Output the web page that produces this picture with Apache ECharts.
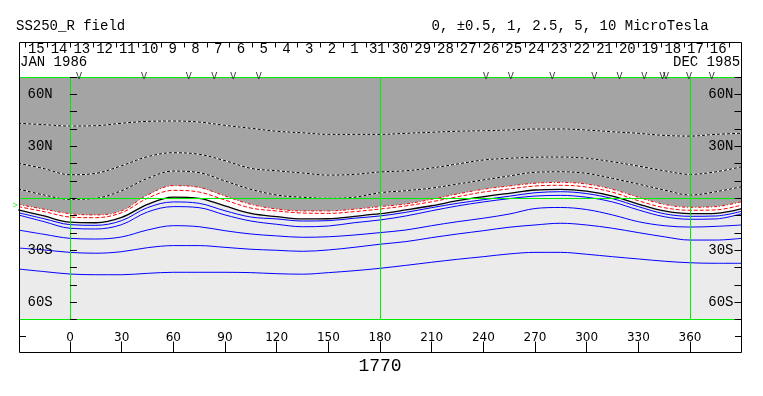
<!DOCTYPE html>
<html><head><meta charset="utf-8">
<script src="https://cdn.jsdelivr.net/npm/echarts@6/dist/echarts.min.js"></script>
<style>html,body{margin:0;padding:0;background:#fff}#c{width:763px;height:396px}</style>
</head><body><div id="c"></div>
<script>
// Carrington longitude samples
const lons = [-30,-15,0,15,30,45,60,75,90,105,120,135,150,165,180,195,210,225,240,255,270,285,300,315,330,345,360,375,390];
// contour latitudes (deg) per longitude
const neg10 = [43.3,42.5,41.7,41.9,43.3,44.4,44.6,44.0,42.1,40.4,38.7,37.8,36.9,36.9,36.9,37.5,38.1,38.7,39.0,39.4,40.0,40.0,39.4,38.4,37.5,36.3,35.9,36.9,37.5];
const neg5 = [20.2,17.1,13.6,14.4,18.8,24.0,26.3,25.4,21.7,17.3,15.9,14.6,13.4,13.8,15.2,15.9,17.5,19.8,22.1,23.1,23.7,23.8,23.1,21.1,18.6,15.9,13.8,15.3,18.2];
const neg25 = [5.4,1.9,-0.6,0,4.4,11.5,15.7,14.8,10.0,5.2,1.9,0.6,0,0.6,3.2,4.4,5.9,8.2,10.6,12.9,15.0,15.3,14.4,11.5,8.2,4.8,1.9,3.8,6.7];
const neg1 = [-3.5,-6.3,-8.9,-9.6,-7.2,1.9,7.3,6.3,1.3,-3.5,-6.2,-7.3,-7.3,-6.3,-4.8,-3.3,-0.6,2.5,5.2,7.1,8.7,9.2,8.2,5.2,0.6,-3.5,-5.2,-4.8,-2.0];
const neg05 = [-4.8,-7.7,-10.8,-11.2,-8.3,0,4.6,3.6,-1.0,-5.6,-7.3,-8.5,-8.7,-7.7,-6.2,-4.4,-2.0,0.9,3.6,5.4,7.1,7.5,6.5,3.5,-1.4,-5.4,-6.9,-6.7,-3.9];
const zero = [-6.7,-10.2,-13.8,-14.1,-11.0,-3.5,0.7,0,-4.4,-8.7,-10.6,-11.9,-11.8,-10.4,-8.9,-6.7,-4.3,-1.4,0.9,2.9,4.8,5.2,4.2,1.3,-3.3,-7.3,-8.9,-8.7,-6.0];
const pos05 = [-8.3,-11.8,-15.2,-15.6,-12.9,-5.4,-2.1,-2.9,-7.2,-10.8,-11.9,-13.1,-12.9,-11.5,-10.2,-8.1,-5.4,-2.9,-0.8,1.2,3.2,3.8,2.7,-0.2,-4.8,-8.9,-10.4,-10.2,-7.5];
const pos1 = [-9.6,-13.5,-17.3,-17.7,-15.2,-7.9,-4.8,-5.4,-9.6,-13.1,-15.0,-16.4,-16.0,-14.1,-12.5,-10.2,-7.2,-4.4,-2.1,-0.2,1.3,1.7,0.6,-2.1,-6.7,-10.6,-12.1,-11.9,-8.9];
const pos25 = [-18.3,-20.8,-23.1,-23.5,-22.3,-18.3,-15.8,-16.4,-18.7,-20.6,-21.7,-22.5,-22.2,-21.2,-19.8,-18.3,-15.8,-13.5,-11.5,-9.1,-5.9,-5.3,-6.5,-9.6,-13.5,-15.8,-16.6,-16.2,-15.4];
const pos5 = [-28.7,-29.8,-31.2,-31.7,-30.8,-28.5,-27.3,-27.3,-28.3,-29.4,-30.0,-30.6,-29.8,-28.3,-26.5,-25.0,-22.7,-20.6,-18.7,-16.7,-15.4,-14.4,-15.4,-17.3,-19.8,-22.2,-24.1,-24.1,-23.1];
const pos10 = [-40.8,-42.3,-43.7,-44.1,-44.1,-43.3,-42.7,-42.7,-42.7,-42.9,-43.5,-43.8,-42.9,-41.8,-40.4,-38.7,-36.9,-35.2,-33.7,-32.1,-31.2,-31.2,-32.3,-33.7,-35.0,-36.3,-37.2,-37.5,-37.5];
// day labels along the top strip
const dayLabels = ['15','14','13','12','11','10','9','8','7','6','5','4','3','2','1','31','30','29','28','27','26','25','24','23','22','21','20','19','18','17','16'];
// observation markers (longitudes)
const markLons = [5.2,43,68.9,83.8,94.8,109.6,241.5,255.9,280,304.4,319,333.5,344,346,359.4,372.6];
const earthLat = [-4.3];
// latitude tick labels
const latTickVals = [60,30,-30,-60];
const latTickText = ['60N','30N','30S','60S'];
const lonTickVals = [0,30,60,90,120,150,180,210,240,270,300,330,360];
const rotation = '1770';
const titleLeft = 'SS250_R field';
const titleRight = '0, \u00b10.5, 1, 2.5, 5, 10 MicroTesla';
const monthLeft = 'JAN 1986';
const monthRight = 'DEC 1985';

const MONO = "'Liberation Mono', 'DejaVu Sans Mono', monospace";
const pair = arr => lons.map((x, i) => [x, arr[i]]);
const SM = 0.35;
const base = {type:'line', xAxisIndex:1, yAxisIndex:1, symbol:'none', smooth:SM, silent:true, animation:false};
function contour(arr, color, type, width, z) {
  return Object.assign({}, base, {data: pair(arr), z: z || 4, lineStyle:{color, type, width: width || 1}});
}
const latFmt = v => { const i = latTickVals.indexOf(v); return i >= 0 ? latTickText[i] : ''; };
const sideTickY = gi => ({gridIndex:gi, type:'value', min:0, max:2, interval:1,
  axisLine:{show:false}, axisTick:{show:false}, axisLabel:{show:false},
  splitLine:{show:true, showMinLine:false, showMaxLine:false, lineStyle:{color:'#000', width:1}}});

const chart = echarts.init(document.getElementById('c'), null, {renderer:'canvas'});
const option = {
  animation:false,
  backgroundColor:'#fff',
  textStyle:{fontFamily:MONO},
  grid:[
    {left:19.5, right:21.5, top:42.5, height:310, show:true, borderColor:'#000', borderWidth:1, backgroundColor:'transparent', z:10},
    {left:19.5, right:21.5, top:77, height:242.6, show:true, borderWidth:0, backgroundColor:'#ebebeb', z:0},
    {left:25, right:33.4, top:42.5, height:34.5},
    {left:18.3, right:21.3, top:341.5, height:11},
    {left:19.5, width:6.5, top:319.6, height:33},
    {right:21.5, width:6.5, top:319.6, height:33}
  ],
  xAxis:[
    {gridIndex:0, type:'value', show:false, min:0, max:1},
    {gridIndex:1, type:'value', show:false, min:-29.3, max:389.9},
    {gridIndex:2, type:'category', data:dayLabels, position:'top', boundaryGap:true, z:8,
      axisLine:{show:true, onZero:false, lineStyle:{color:'#000', width:1}},
      axisTick:{show:true, inside:true, length:5, interval:0, alignWithLabel:false, lineStyle:{color:'#000', width:1}},
      axisLabel:{inside:true, interval:0, margin:6.5, verticalAlign:'middle', fontFamily:MONO, fontSize:14, color:'#000'}},
    {gridIndex:3, type:'value', min:-30, max:390, interval:30, position:'top', z:8,
      axisLine:{show:false, onZero:false}, axisTick:{show:false},
      splitLine:{show:true, showMinLine:false, showMaxLine:false, lineStyle:{color:'#000', width:1}},
      axisLabel:{margin:3.5, verticalAlign:'middle', fontFamily:"'DejaVu Sans', sans-serif", fontSize:12, color:'#000',
        formatter: v => lonTickVals.indexOf(v) >= 0 ? String(v) : ''}},
    {gridIndex:4, type:'value', show:false, min:0, max:1},
    {gridIndex:5, type:'value', show:false, min:0, max:1}
  ],
  yAxis:[
    {gridIndex:0, type:'value', show:false, min:0, max:1},
    {gridIndex:1, type:'value', min:-70, max:70, interval:10, position:'left', z:5,
      axisLine:{show:false}, splitLine:{show:false},
      axisTick:{inside:true, length:7, lineStyle:{color:'#000'}},
      axisLabel:{inside:true, margin:8, fontFamily:MONO, fontSize:14, color:'#000', formatter:latFmt}},
    {gridIndex:1, type:'value', min:-70, max:70, interval:10, position:'right', z:5,
      axisLine:{show:false}, splitLine:{show:false},
      axisTick:{inside:true, length:7, lineStyle:{color:'#000'}},
      axisLabel:{inside:true, margin:8, fontFamily:MONO, fontSize:14, color:'#000', formatter:latFmt}},
    {gridIndex:2, type:'value', show:false, min:0, max:1},
    {gridIndex:3, type:'value', show:false, min:0, max:1},
    sideTickY(4),
    sideTickY(5)
  ],
  series:[
    Object.assign({}, base, {data:pair(zero), z:1, lineStyle:{width:0, opacity:0}, areaStyle:{color:'#ffffff', opacity:1, origin:'end'}}),
    Object.assign({}, base, {data:pair(neg1), z:2, lineStyle:{width:0, opacity:0}, areaStyle:{color:'#a4a4a4', opacity:1, origin:'end'}}),
    Object.assign({}, base, {data:[], z:3, markLine:{silent:true, symbol:'none', label:{show:false}, animation:false,
      lineStyle:{color:'#00ee00', width:1, type:'solid'},
      data:[{xAxis:0},{xAxis:180},{xAxis:360},{yAxis:70},{yAxis:-70}]}}),
    contour(neg10, '#ffffff', 'solid', 1),
    contour(neg10, '#000000', [3,2], 1),
    contour(neg5, '#ffffff', 'solid', 1),
    contour(neg5, '#000000', [3,2], 1),
    contour(neg25, '#ffffff', 'solid', 1),
    contour(neg25, '#000000', [3,2], 1),
    contour(neg1, '#ff0000', [3,2,1,2], 1),
    contour(neg05, '#ff0000', [4,2], 1),
    contour(zero, '#000000', 'solid', 1.3),
    contour(pos05, '#0000ff', 'solid', 1),
    contour(pos1, '#0000ff', 'solid', 1),
    contour(pos25, '#0000ff', 'solid', 1),
    contour(pos5, '#0000ff', 'solid', 1),
    contour(pos10, '#0000ff', 'solid', 1),
    Object.assign({}, base, {data:[], z:6, markLine:{silent:true, symbol:'none', label:{show:false}, animation:false,
      lineStyle:{color:'#00ee00', width:1, type:'solid'}, data:[{yAxis:0}]}}),
    {type:'scatter', xAxisIndex:1, yAxisIndex:1, z:7, clip:false, silent:true, symbolSize:1,
      itemStyle:{color:'rgba(0,0,0,0)'}, data: markLons.map(l => [l, 70]),
      label:{show:true, formatter:'V', position:'inside', offset:[0,-1], fontFamily:MONO, fontSize:10, color:'#000'}},
    {type:'scatter', xAxisIndex:1, yAxisIndex:1, z:7, clip:false, silent:true, symbolSize:1,
      itemStyle:{color:'rgba(0,0,0,0)'}, data: earthLat.map(b => [-29.3, b]),
      label:{show:true, formatter:'>', position:'left', distance:1, fontFamily:MONO, fontSize:9, color:'#00ee00'}}
  ],
  graphic:[
    {type:'text', x:16, y:26.5, style:{text:titleLeft, font:'14px ' + MONO, fill:'#000', verticalAlign:'middle'}},
    {type:'text', x:431.5, y:26.5, style:{text:titleRight, font:'14px ' + MONO, fill:'#000', verticalAlign:'middle'}},
    {type:'text', x:20, y:62.5, style:{text:monthLeft, font:'14px ' + MONO, fill:'#000', verticalAlign:'middle'}},
    {type:'text', x:673, y:62.5, style:{text:monthRight, font:'14px ' + MONO, fill:'#000', verticalAlign:'middle'}},
    {type:'text', x:380, y:366, style:{text:rotation, font:'18px ' + MONO, fill:'#000', align:'center', verticalAlign:'middle'}}
  ]
};
chart.setOption(option);
</script></body></html>
